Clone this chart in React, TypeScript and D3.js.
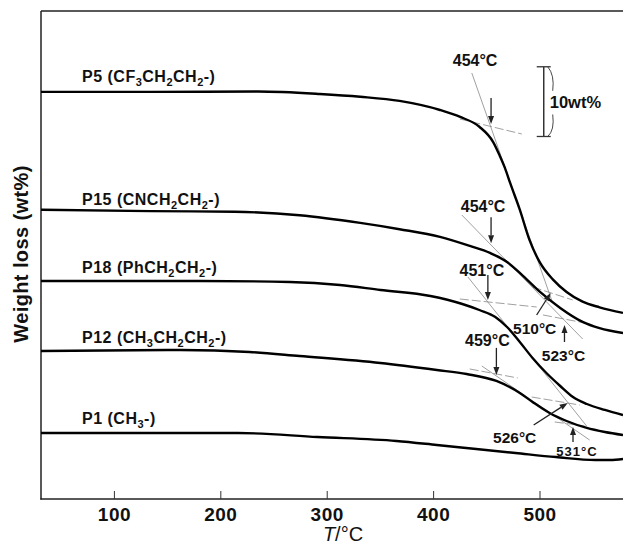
import React from 'react';
import * as d3 from 'd3';

const WIDTH = 623;
const HEIGHT = 547;

// TGA traces: temperature (°C) and vertically stacked weight (wt%)
const p5Temp = [31, 134, 235, 293, 331, 368, 406, 425, 443, 456, 462, 467, 472, 481, 490, 500, 512, 525, 540, 556, 578];
const p5Wt = [58.4, 58.4, 58.45, 58.1, 57.7, 57.1, 55.8, 54.8, 53.4, 51.2, 49.3, 47.5, 45.3, 41.5, 37.2, 33.9, 31.5, 29.7, 28.3, 27.5, 26.7];

const p15Temp = [31, 134, 213, 274, 331, 368, 406, 434, 453, 469, 484, 500, 519, 540, 556, 578];
const p15Wt = [41.5, 41.3, 41.2, 40.7, 39.6, 38.7, 37.6, 36.3, 35.3, 34.0, 32.0, 29.7, 27.4, 25.4, 24.5, 23.8];

const p18Temp = [31, 181, 265, 312, 350, 397, 427, 443, 458, 469, 481, 493, 506, 519, 531, 544, 561, 578];
const p18Wt = [31.27, 31.27, 31.13, 30.7, 29.98, 29.12, 27.97, 27.11, 26.11, 24.67, 22.52, 20.23, 18.07, 16.21, 14.63, 13.63, 12.77, 12.05];

const p12Temp = [31, 162, 227, 274, 350, 403, 431, 459, 481, 493, 509, 525, 544, 561, 578];
const p12Wt = [21.23, 21.37, 21.09, 20.51, 19.51, 18.51, 17.93, 16.93, 15.21, 13.92, 12.34, 11.19, 10.19, 9.61, 9.18];

const p1Temp = [31, 216, 291, 365, 403, 440, 477, 515, 552, 566, 578];
const p1Wt = [9.47, 9.47, 8.89, 8.32, 7.75, 7.17, 6.6, 6.02, 5.59, 5.59, 5.74];

// "_n" marks a subscript digit
const seriesNames = ['P5 (CF_3CH_2CH_2-)', 'P15 (CNCH_2CH_2-)', 'P18 (PhCH_2CH_2-)', 'P12 (CH_3CH_2CH_2-)', 'P1 (CH_3-)'];

const xTicks = [100, 200, 300, 400, 500];

// Onset temperatures (P5, P15, P18, P12) and the weight at the tangent crossing
const onsetTemps = [454, 454, 451, 459];
const onsetWt = [53.8, 36.7, 28.55, 17.8];

// End-set temperatures (P5, P15, P18, P12)
const endTemps = [510, 523, 526, 531];
const endWt = [29.55, 24.96, 13.77, 10.33];

// Tangent construction lines: [T1, wt1, T2, wt2, dashed]
const tangents: [number, number, number, number, boolean][] = [
  [435.9, 61.11, 511.9, 28.12, false],
  [424.6, 54.51, 482.9, 52.36, true],
  [493.2, 30.41, 530.7, 28.55, true],
  [426.5, 40.74, 540.1, 22.95, false],
  [502.8, 26.4, 542.0, 25.25, true],
  [424.6, 28.69, 496.9, 27.54, true],
  [432.2, 31.85, 543.8, 10.47, false],
  [492.2, 14.63, 537.3, 13.48, true],
  [433.9, 18.65, 479.1, 17.36, true],
  [445.3, 19.08, 546.7, 8.46, false],
  [513.8, 11.05, 542.0, 10.47, true],
];

// 10 wt% scale bar
const scaleBarTemp = 503.5;
const scaleBarTop = 62;
const scaleBarSpan = 10;

const FONT = "'Liberation Sans', Arial, Helvetica, sans-serif";

const x = d3.scaleLinear().domain([31, 578]).range([41, 623]);
const y = d3.scaleLinear().domain([0, 70]).range([499, 11]);

const line = d3
  .line<[number, number]>()
  .x((d) => x(d[0]))
  .y((d) => y(d[1]))
  .curve(d3.curveMonotoneX);

const zip = (a: number[], b: number[]): [number, number][] => a.map((v, i) => [v, b[i]]);

const series = [
  zip(p5Temp, p5Wt),
  zip(p15Temp, p15Wt),
  zip(p18Temp, p18Wt),
  zip(p12Temp, p12Wt),
  zip(p1Temp, p1Wt),
];

// label baseline gap above each plateau
const labelGap = [10, 5, 8, 8, 9];

// onset label placement relative to arrow tip, and arrow length
const onsetLayout = [
  { dx: -16, dy: -64, len: 26 },
  { dx: -8, dy: -37, len: 26 },
  { dx: -6, dy: -30, len: 25 },
  { dx: -9, dy: -35, len: 27 },
];

// end-set arrow tail and label placement relative to the arrow tip
const endLayout = [
  { tx: -14, ty: 22, lx: -16, ly: 35, size: 15.5, ls: 0 },
  { tx: 0, ty: 17, lx: -1, ly: 30, size: 15.5, ls: 0 },
  { tx: -34, ty: 22, lx: -53, ly: 34, size: 15.5, ls: 0 },
  { tx: 0, ty: 15, lx: 4, ly: 24, size: 13, ls: 1 },
];

function Arrow({ x1, y1, x2, y2 }: { x1: number; y1: number; x2: number; y2: number }) {
  const ang = Math.atan2(y2 - y1, x2 - x1);
  const len = 8;
  const half = 3;
  const bx = x2 - len * Math.cos(ang);
  const by = y2 - len * Math.sin(ang);
  const px = -Math.sin(ang) * half;
  const py = Math.cos(ang) * half;
  return (
    <g>
      <line x1={x1} y1={y1} x2={bx} y2={by} stroke="#222" strokeWidth={1.3} />
      <polygon points={`${x2},${y2} ${bx + px},${by + py} ${bx - px},${by - py}`} fill="#222" />
    </g>
  );
}

function Formula({ text, x0, y0 }: { text: string; x0: number; y0: number }) {
  const parts = text.split(/(_\d)/).filter(Boolean);
  let down = false;
  return (
    <text x={x0} y={y0} fontFamily={FONT} fontWeight="bold" fontSize={16} letterSpacing={0.5} fill="#111">
      {parts.map((p, i) => {
        if (p.startsWith('_')) {
          const el = (
            <tspan key={i} dy={down ? 0 : 4} fontSize={11}>
              {p.slice(1)}
            </tspan>
          );
          down = true;
          return el;
        }
        const el = (
          <tspan key={i} dy={down ? -4 : 0}>
            {p}
          </tspan>
        );
        down = false;
        return el;
      })}
    </text>
  );
}

export default function App() {
  const sbX = x(scaleBarTemp);
  const sbTop = y(scaleBarTop);
  const sbBot = y(scaleBarTop - scaleBarSpan);
  return (
    <svg
      width={WIDTH}
      height={HEIGHT}
      viewBox={`0 0 ${WIDTH} ${HEIGHT}`}
      style={{ position: 'absolute', left: 0, top: 0, background: '#fff', display: 'block' }}
    >
      <rect x={0} y={0} width={WIDTH} height={HEIGHT} fill="#fff" />

      {/* frame */}
      <line x1={41} y1={11} x2={WIDTH} y2={11} stroke="#222" strokeWidth={1.3} />
      <line x1={41} y1={11} x2={41} y2={499.5} stroke="#222" strokeWidth={1.5} />
      <line x1={40.3} y1={499} x2={WIDTH} y2={499} stroke="#222" strokeWidth={1.6} />

      {/* x ticks */}
      {xTicks.map((t) => (
        <g key={t}>
          <line x1={x(t)} x2={x(t)} y1={499} y2={491} stroke="#333" strokeWidth={1} />
          <text
            x={x(t)}
            y={521}
            textAnchor="middle"
            fontFamily={FONT}
            fontWeight="bold"
            fontSize={19}
            letterSpacing={0.5}
            fill="#111"
          >
            {t}
          </text>
        </g>
      ))}

      <text x={343} y={541} textAnchor="middle" fontFamily={FONT} fontSize={20} fill="#111">
        <tspan fontStyle="italic">T</tspan>/°C
      </text>

      <text
        transform="translate(28,254) rotate(-90)"
        textAnchor="middle"
        fontFamily={FONT}
        fontWeight="bold"
        fontSize={20}
        letterSpacing={0.4}
        fill="#111"
      >
        Weight loss (wt%)
      </text>

      {/* tangent constructions */}
      {tangents.map((t, i) => (
        <line
          key={i}
          x1={x(t[0])}
          y1={y(t[1])}
          x2={x(t[2])}
          y2={y(t[3])}
          stroke="#888"
          strokeWidth={0.8}
          strokeDasharray={t[4] ? '9 3' : undefined}
        />
      ))}

      {/* traces */}
      {series.map((s, i) => (
        <path key={i} d={line(s) || ''} fill="none" stroke="#000" strokeWidth={2.4} strokeLinejoin="round" />
      ))}

      {/* trace labels */}
      {seriesNames.map((n, i) => (
        <Formula key={n} text={n} x0={82} y0={y(series[i][0][1]) - labelGap[i]} />
      ))}

      {/* onset arrows */}
      {onsetTemps.map((t, i) => {
        const tx = x(t);
        const ty = y(onsetWt[i]);
        const L = onsetLayout[i];
        return (
          <g key={'on' + i}>
            <Arrow x1={tx} y1={ty - L.len} x2={tx} y2={ty} />
            <text
              x={tx + L.dx}
              y={ty + L.dy}
              dy="0.36em"
              textAnchor="middle"
              fontFamily={FONT}
              fontWeight="bold"
              fontSize={16}
              fill="#111"
            >
              {`${t}°C`}
            </text>
          </g>
        );
      })}

      {/* end-set arrows */}
      {endTemps.map((t, i) => {
        const tx = x(t);
        const ty = y(endWt[i]);
        const L = endLayout[i];
        return (
          <g key={'end' + i}>
            <Arrow x1={tx + L.tx} y1={ty + L.ty} x2={tx} y2={ty} />
            <text
              x={tx + L.lx}
              y={ty + L.ly}
              dy="0.36em"
              textAnchor="middle"
              fontFamily={FONT}
              fontWeight="bold"
              fontSize={L.size}
              letterSpacing={L.ls}
              fill="#111"
            >
              {`${t}°C`}
            </text>
          </g>
        );
      })}

      {/* 10 wt% scale bar */}
      <g stroke="#333" fill="none">
        <line x1={sbX} x2={sbX} y1={sbTop} y2={sbBot} strokeWidth={1.5} />
        <line x1={sbX - 7} x2={sbX + 7} y1={sbTop} y2={sbTop} strokeWidth={1.3} />
        <line x1={sbX - 7} x2={sbX + 7} y1={sbBot} y2={sbBot} strokeWidth={1.3} />
        <path d={`M${sbX + 4},${sbTop} Q${sbX + 11},${sbTop + 8} ${sbX + 9},${sbTop + 24}`} strokeWidth={0.9} />
        <path d={`M${sbX + 9},${sbBot - 22} Q${sbX + 11},${sbBot - 6} ${sbX + 4},${sbBot}`} strokeWidth={0.9} />
      </g>
      <text
        x={sbX + 6}
        y={(sbTop + sbBot) / 2}
        dy="0.36em"
        fontFamily={FONT}
        fontWeight="bold"
        fontSize={16.5}
        fill="#111"
      >
        10wt%
      </text>
    </svg>
  );
}
